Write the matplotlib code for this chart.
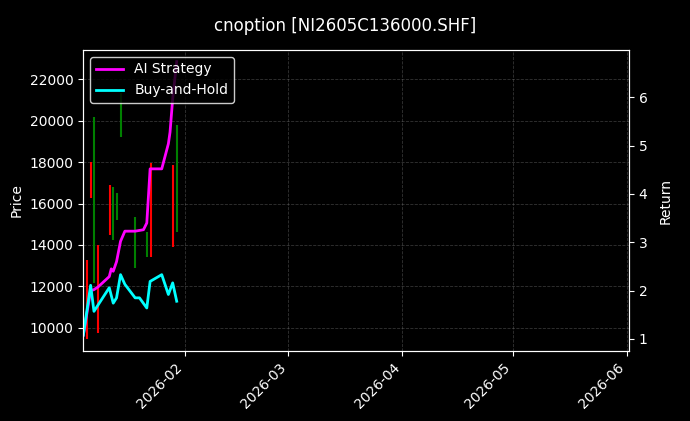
import numpy as np
import pandas as pd
import matplotlib
matplotlib.use('Agg')
import matplotlib.pyplot as plt

start = pd.Timestamp('2026-01-01')

# candles (day offset from Jan 1, high, low, colour)
candle_days = [4.43, 5.42, 6.33, 7.41, 10.57, 11.47, 12.46, 13.54, 17.51, 20.58, 21.66, 27.61, 28.70]
candle_hi = [13300, 18000, 20170, 14000, 16890, 16800, 16500, 21330, 15350, 14630, 17950, 17850, 19800]
candle_lo = [9450, 16265, 12170, 9760, 14480, 14240, 15200, 19200, 12900, 13420, 13420, 13900, 14630]
candle_col = ['red', 'red', 'green', 'red', 'red', 'green', 'green', 'green',
              'green', 'green', 'red', 'red', 'green']

bh_days = [3.35, 5.33, 6.24, 7.41, 10.39, 11.47, 12.37, 13.45, 14.63, 17.42, 18.59, 20.58, 21.48, 24.64, 26.44, 27.61, 28.70]
bh_ret = [1.08, 2.11, 1.57, 1.71, 2.06, 1.74, 1.85, 2.33, 2.13, 1.85, 1.85, 1.64, 2.19, 2.33, 1.92, 2.16, 1.78]

ai_days = [3.35, 5.33, 6.24, 7.41, 10.39, 10.93, 11.47, 12.37, 13.45, 14.63, 17.42, 19.68, 20.58, 21.48, 24.64, 26.44, 26.89, 27.61, 28.70]
ai_ret = [1.08, 2.0, 2.02, 2.08, 2.29, 2.45, 2.40, 2.6, 3.02, 3.23, 3.23, 3.26, 3.40, 4.52, 4.52, 5.04, 5.28, 5.97, 6.74]


def to_dates(days):
    return start + pd.to_timedelta(days, unit='D')


plt.style.use('dark_background')
fig = plt.figure(figsize=(6.9, 4.21), dpi=100)
ax = fig.add_axes([83/690, 70/421, 546/690, 301/421])
ax.vlines(to_dates(candle_days), candle_lo, candle_hi, colors=candle_col, linewidth=1.5)
ax.set_ylim(8890, 23400)
ax.set_ylabel('Price')
ax.grid(True, linestyle='--', color='gray', alpha=0.4, linewidth=0.6)

ax2 = ax.twinx()
ax2.plot(to_dates(ai_days), ai_ret, color='magenta', linewidth=2, label='AI Strategy')
ax2.plot(to_dates(bh_days), bh_ret, color='cyan', linewidth=2, label='Buy-and-Hold')
ax2.set_ylim(0.75, 6.98)
ax2.set_ylabel('Return', labelpad=8)
ax2.legend(loc='upper left', facecolor='black', edgecolor='white')

ax.set_xlim(start + pd.Timedelta(days=3.26), pd.Timestamp('2026-06-01 12:00'))
ax.xaxis.set_major_locator(matplotlib.dates.MonthLocator(bymonth=[2, 3, 4, 5, 6]))
ax.xaxis.set_major_formatter(matplotlib.dates.DateFormatter('%Y-%m'))
plt.setp(ax.get_xticklabels(), rotation=45, ha='right')
fig.suptitle('cnoption [NI2605C136000.SHF]', y=0.96)
fig.savefig('out.png')
